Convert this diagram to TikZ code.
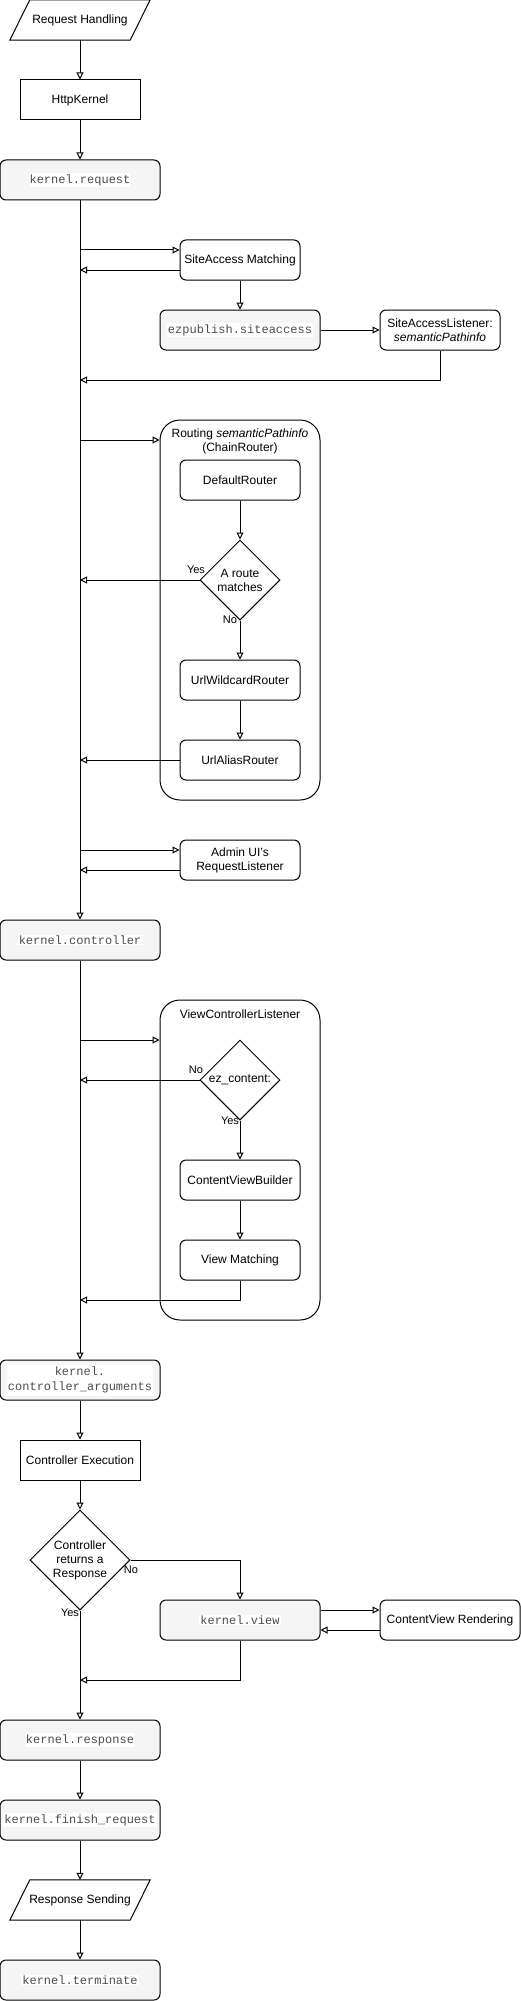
\documentclass[tikz,border=0pt]{standalone}
\usepackage{fontspec}
\setmainfont{Liberation Sans}
\setmonofont{Liberation Mono}
\usetikzlibrary{arrows.meta,shapes.geometric}
\definecolor{evfill}{HTML}{F5F5F5}
\definecolor{monocol}{HTML}{4D4D4D}
\setlength{\fboxsep}{1pt}
\newcommand{\evtxt}[1]{\colorbox{white}{\ttfamily\color{monocol}#1}}
\tikzset{
  base/.style={draw, line width=1pt, minimum width=120pt, minimum height=40pt, fill=white, align=center, inner sep=2pt, font=\fontsize{12}{14}\selectfont},
  box/.style={base, rounded corners=6pt},
  sqbox/.style={base},
  evbox/.style={base, rounded corners=6pt, minimum width=160pt, fill=evfill},
  dia/.style={draw, line width=1pt, diamond, fill=white, minimum width=80pt, minimum height=80pt, inner sep=0pt, align=center, font=\fontsize{12}{14}\selectfont},
  container/.style={draw, line width=1pt, rounded corners=20pt, minimum width=160pt, fill=white},
  ttl/.style={align=center, inner sep=0pt, font=\fontsize{12}{14}\selectfont},
  arr/.style={-{Triangle[open,length=7pt,width=7pt]}, line width=1pt},
  ln/.style={line width=1pt},
  lbl/.style={inner sep=0pt, font=\fontsize{11}{13}\selectfont},
  plain/.style={minimum width=120pt, minimum height=40pt, inner sep=0pt, font=\fontsize{12}{14}\selectfont}
}
\begin{document}
\begin{tikzpicture}[x=1pt,y=1pt]
\useasboundingbox (0,0) rectangle (521,-2001);
% containers
\node[container, minimum height=380pt] (rt) at (240,-610) {};
\node[ttl] (rtt) at (240,-441) {Routing \textit{semanticPathinfo}\\(ChainRouter)};
\node[container, minimum height=320pt] (vcl) at (240,-1160) {};
\node[ttl] (vclt) at (240,-1014) {ViewControllerListener};
% nodes
\node[plain] (rh) at (80,-20) {Request Handling};
\draw[ln] ([xshift=-10pt]rh.south west) -- ([xshift=10pt]rh.north west) -- ([xshift=10pt]rh.north east) -- ([xshift=-10pt]rh.south east) -- cycle;
\node[sqbox] (hk) at (80,-100) {HttpKernel};
\node[evbox] (kreq) at (80,-180) {\evtxt{kernel.request}};
\node[box] (sam) at (240,-260) {SiteAccess Matching};
\node[evbox] (ezsa) at (240,-330) {\evtxt{ezpublish.siteaccess}};
\node[box] (sal) at (440,-330) {SiteAccessListener:\\\textit{semanticPathinfo}};
\node[box] (dr) at (240,-480) {DefaultRouter};
\node[dia] (arm) at (240,-580) {A route\\matches};
\node[box] (uwr) at (240,-680) {UrlWildcardRouter};
\node[box] (uar) at (240,-760) {UrlAliasRouter};
\node[box] (adm) at (240,-860) {Admin UI's\\RequestListener};
\node[evbox] (kctrl) at (80,-940) {\evtxt{kernel.controller}};
\node[dia] (ezc) at (240,-1080) {ez\_content:};
\node[box] (cvb) at (240,-1180) {ContentViewBuilder};
\node[box] (vm) at (240,-1260) {View Matching};
\node[evbox] (kca) at (80,-1380) {\colorbox{white}{\ttfamily\color{monocol}\begin{tabular}{@{}c@{}}kernel.\\[1pt]controller\_arguments\end{tabular}}};
\node[sqbox] (ce) at (80,-1460) {Controller Execution};
\node[dia, minimum width=100pt, minimum height=100pt] (crr) at (80,-1560) {Controller\\returns a\\Response};
\node[evbox] (kview) at (240,-1620) {\evtxt{kernel.view}};
\node[box, minimum width=140pt] (cvr) at (450,-1620) {ContentView Rendering};
\node[evbox] (kresp) at (80,-1740) {\evtxt{kernel.response}};
\node[evbox] (kfin) at (80,-1820) {\evtxt{kernel.finish\_request}};
\node[plain] (rs) at (80,-1900) {Response Sending};
\draw[ln] ([xshift=-10pt]rs.south west) -- ([xshift=10pt]rs.north west) -- ([xshift=10pt]rs.north east) -- ([xshift=-10pt]rs.south east) -- cycle;
\node[evbox] (kterm) at (80,-1980) {\evtxt{kernel.terminate}};
% points on the main line
\coordinate (a1) at (80,-250);
\coordinate (a2) at (80,-270);
\coordinate (a3) at (80,-380);
\coordinate (a4) at (80,-440);
\coordinate (a5) at (80,-580);
\coordinate (a6) at (80,-760);
\coordinate (a7) at (80,-850);
\coordinate (a8) at (80,-870);
\coordinate (b1) at (80,-1040);
\coordinate (b2) at (80,-1080);
\coordinate (b3) at (80,-1300);
\coordinate (c1) at (80,-1680);
% connectors
\draw[arr] (rh) -- (hk);
\draw[arr] (hk) -- (kreq);
\draw[arr] (kreq) -- (kctrl);
\draw[arr] (a1) -- (a1 -| sam.west);
\draw[arr] (a2 -| sam.west) -- (a2);
\draw[arr] (sam) -- (ezsa);
\draw[arr] (ezsa) -- (sal);
\draw[arr] (sal.south) |- (a3);
\draw[arr] (a4) -- (a4 -| rt.west);
\draw[arr] (dr) -- (arm);
\draw[arr] (arm.west) -- (a5);
\draw[arr] (arm.south) -- (uwr);
\draw[arr] (uwr) -- (uar);
\draw[arr] (uar.west) -- (a6);
\draw[arr] (a7) -- (a7 -| adm.west);
\draw[arr] (a8 -| adm.west) -- (a8);
\draw[arr] (kctrl) -- (kca);
\draw[arr] (b1) -- (b1 -| vcl.west);
\draw[arr] (ezc.west) -- (b2);
\draw[arr] (ezc.south) -- (cvb);
\draw[arr] (cvb) -- (vm);
\draw[arr] (vm.south) |- (b3);
\draw[arr] (kca) -- (ce);
\draw[arr] (ce) -- (crr);
\draw[arr] (crr.east) -| (kview.north);
\draw[arr] (crr.south) -- (kresp);
\draw[arr] ([yshift=10pt]kview.east) -- ([yshift=10pt]cvr.west);
\draw[arr] ([yshift=-10pt]cvr.west) -- ([yshift=-10pt]kview.east);
\draw[arr] (kview.south) |- (c1);
\draw[arr] (kresp) -- (kfin);
\draw[arr] (kfin) -- (rs);
\draw[arr] (rs) -- (kterm);
% labels
\node[lbl] (l1) at (196,-570) {Yes};
\node[lbl] (l2) at (230,-620) {No};
\node[lbl] (l3) at (196,-1070) {No};
\node[lbl] (l4) at (230,-1121) {Yes};
\node[lbl] (l5) at (131,-1570) {No};
\node[lbl] (l6) at (70,-1613) {Yes};
\end{tikzpicture}
\end{document}
